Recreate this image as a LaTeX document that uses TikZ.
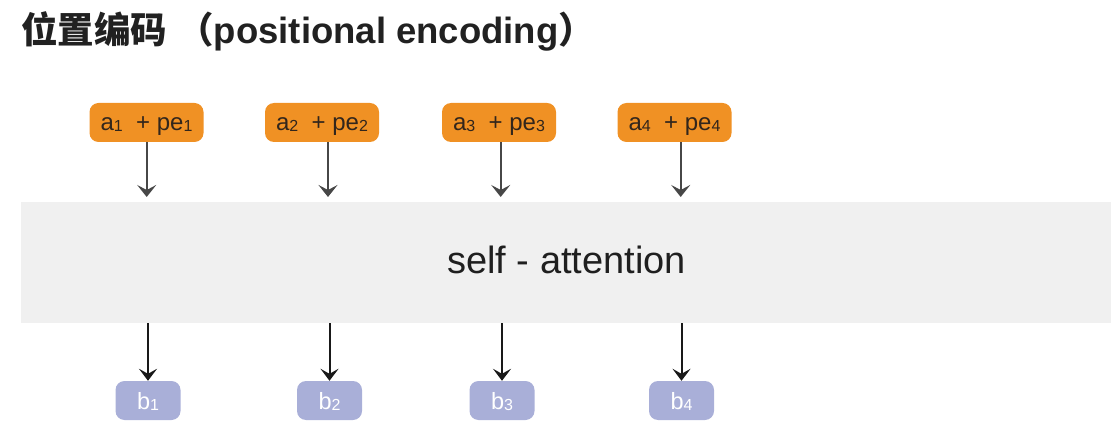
\documentclass[tikz,border=0pt]{standalone}
\usepackage{fontspec}
\setmainfont{Liberation Sans}
\newfontfamily\cjk{Noto Sans CJK SC}
\usetikzlibrary{arrows.meta,calc}
\definecolor{orbox}{RGB}{240,145,36}
\definecolor{lav}{RGB}{169,175,216}
\definecolor{band}{RGB}{240,240,240}
\definecolor{ortext}{RGB}{50,38,28}
\newcommand\lowdig[1]{\raisebox{-1pt}{\fontsize{16}{16}\selectfont #1}}
\begin{document}
\begin{tikzpicture}[x=1pt,y=-1pt,
 inbox/.style={fill=orbox, rounded corners=9pt, minimum width=114pt, minimum height=39pt, inner sep=0pt, text height=15.5pt, text depth=0pt, text=ortext, font=\fontsize{24}{24}\selectfont},
 outbox/.style={fill=lav, rounded corners=9pt, minimum width=65pt, minimum height=39pt, inner sep=0pt, text height=17.6pt, text depth=0pt, text=white, font=\fontsize{23.5}{23.5}\selectfont},
 inarrow/.style={draw=black!72, line width=1.8pt, -{Stealth[length=12pt,width=19pt,inset=5pt]}},
 outarrow/.style={draw=black!90, line width=2pt, -{Stealth[length=12pt,width=18pt,inset=5pt]}}]
\useasboundingbox (0,0) rectangle (1115,435);
\node[anchor=base west, inner sep=0pt, font=\fontsize{36.5}{36.5}\selectfont\bfseries, text=black!87] (title) at (21,44)
  {{\cjk 位置编码} {\cjk （}positional encoding{\cjk ）}};
\node[fill=band, minimum width=1090pt, minimum height=121pt, inner sep=0pt, anchor=north west] (sa) at (21,202) {};
\node[anchor=base, inner sep=0pt, font=\fontsize{38}{38}\selectfont, text=black!88] (satext) at (566.5,274) {self - attention};
\node[inbox] (a1) at (146.5,122.5) {a\lowdig{1}\ \ + pe\lowdig{1}};
\node[inbox] (a2) at (322,122.5) {a\lowdig{2}\ \ + pe\lowdig{2}};
\node[inbox] (a3) at (499,122.5) {a\lowdig{3}\ \ + pe\lowdig{3}};
\node[inbox] (a4) at (674.5,122.5) {a\lowdig{4}\ \ + pe\lowdig{4}};
\node[outbox] (b1) at (148,400.5) {b\lowdig{1}};
\node[outbox] (b2) at (329.5,400.5) {b\lowdig{2}};
\node[outbox] (b3) at (502,400.5) {b\lowdig{3}};
\node[outbox] (b4) at (681.5,400.5) {b\lowdig{4}};
\coordinate (t1) at (146.7,197);
\coordinate (t2) at (328,197);
\coordinate (t3) at (500.7,197);
\coordinate (t4) at (680.7,197);
\foreach \i in {1,2,3,4}{
  \draw[inarrow] (a\i.south -| t\i) -- (t\i);
  \draw[outarrow] (b\i.north |- sa.south) -- (b\i.north);
}
\end{tikzpicture}
\end{document}
